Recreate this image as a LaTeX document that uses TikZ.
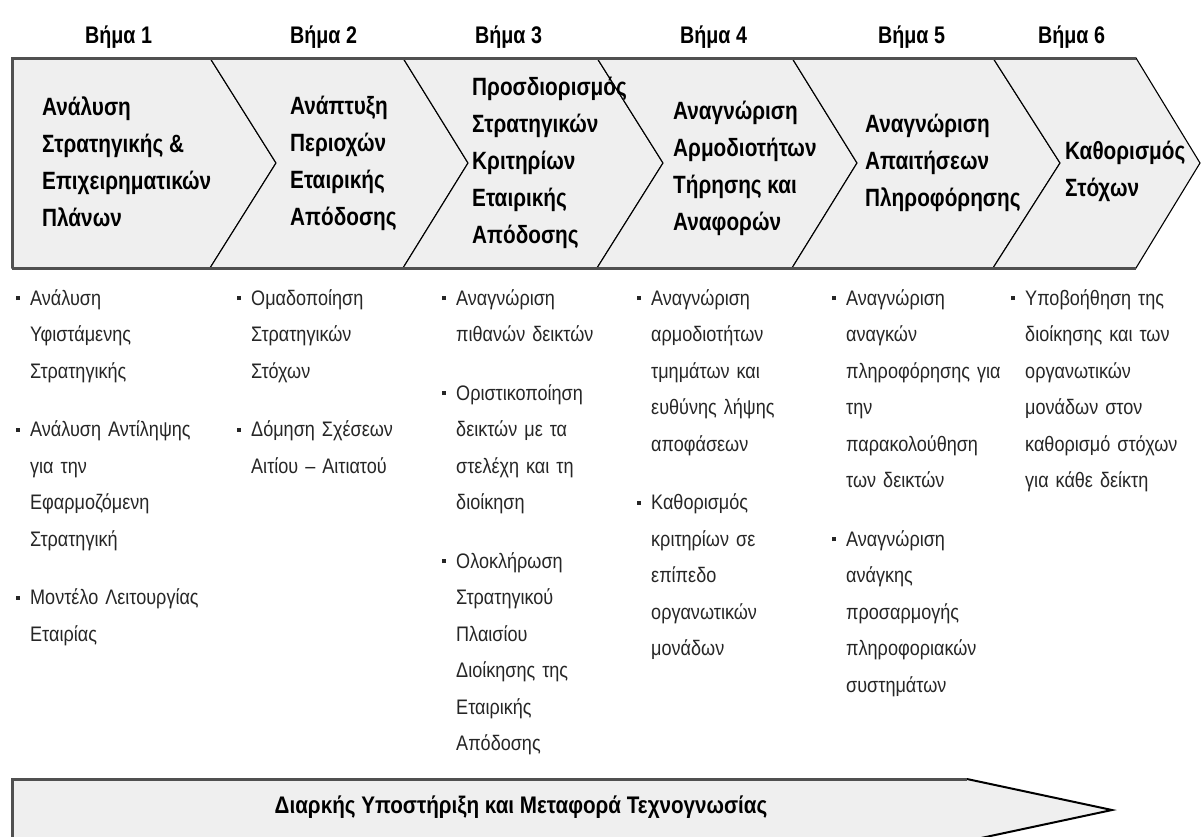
\documentclass[tikz,border=0pt]{standalone}
\usepackage{fontspec}
\setmainfont{Liberation Sans}[FakeStretch=0.86]
\newfontfamily\titlefont{Liberation Sans}[FakeStretch=0.83]
\newfontfamily\stepfont{Liberation Sans}[FakeStretch=0.82]
\definecolor{chevfill}{HTML}{EFEFEF}
\definecolor{edgegray}{HTML}{505050}
\definecolor{bultext}{HTML}{262626}
\newcommand{\bitem}[1]{{\let\\\newline\hangindent=14pt\hangafter=1\noindent\makebox[14pt][l]{\rule[5pt]{4pt}{4pt}}#1\par}}
\newcommand{\bgap}{\par\vspace{22pt}}
\begin{document}
\begin{tikzpicture}[x=1pt,y=-1pt,
  chev/.style={fill=chevfill,draw=black,line width=1.1pt,line join=miter},
  outeredge/.style={draw=edgegray,line width=3pt},
  steplabel/.style={anchor=west,inner sep=0pt,font=\stepfont\fontsize{24}{28}\selectfont\bfseries},
  chevtitle/.style={anchor=west,align=left,inner sep=0pt,font=\titlefont\fontsize{25}{37}\selectfont\bfseries},
  bullets/.style={anchor=base west,inner sep=0pt,text width=190pt,align=left,font=\fontsize{21}{36.5}\selectfont,text=bultext},
  supporttext/.style={inner sep=0pt,font=\fontsize{24}{28}\selectfont\bfseries},
]
\useasboundingbox (0,0) rectangle (1204,836);
\fill[white] (0,0) rectangle (1204,836);

% step labels
\node[steplabel] (s1) at (85,37) {Βήμα 1};
\node[steplabel] (s2) at (290,37) {Βήμα 2};
\node[steplabel] (s3) at (475,37) {Βήμα 3};
\node[steplabel] (s4) at (680,37) {Βήμα 4};
\node[steplabel] (s5) at (878,37) {Βήμα 5};
\node[steplabel] (s6) at (1038,37) {Βήμα 6};

% chevrons
\path[chev] (12,58) -- (210,58) -- (276,163) -- (210,268) -- (12,268) -- cycle;
\path[chev] (210,58) -- (403,58) -- (468,163) -- (403,268) -- (210,268) -- (276,163) -- cycle;
\path[chev] (403,58) -- (597,58) -- (663,163) -- (597,268) -- (403,268) -- (468,163) -- cycle;
\path[chev] (597,58) -- (792,58) -- (857,163) -- (792,268) -- (597,268) -- (663,163) -- cycle;
\path[chev] (792,58) -- (993,58) -- (1060,163) -- (993,268) -- (792,268) -- (857,163) -- cycle;
\path[chev] (993,58) -- (1136,58) -- (1200,163) -- (1136,268) -- (993,268) -- (1060,163) -- cycle;
\draw[outeredge] (12,268) -- (12,58) -- (1136,58);
\draw[outeredge] (12,268) -- (1136,268);

% chevron titles
\node[chevtitle] (t1) at (42,162) {Ανάλυση\\Στρατηγικής \&\\Επιχειρηματικών\\Πλάνων};
\node[chevtitle] (t2) at (290,163) {Ανάπτυξη\\Περιοχών\\Εταιρικής\\Απόδοσης};
\node[chevtitle] (t3) at (472,163) {Προσδιορισμός\\Στρατηγικών\\Κριτηρίων\\Εταιρικής\\Απόδοσης};
\node[chevtitle] (t4) at (673,168) {Αναγνώριση\\Αρμοδιοτήτων\\Τήρησης και\\Αναφορών};
\node[chevtitle] (t5) at (865,163) {Αναγνώριση\\Απαιτήσεων\\Πληροφόρησης};
\node[chevtitle] (t6) at (1065,171) {Καθορισμός\\Στόχων};

% bullet columns
\node[bullets] (b1) at (16,305) {\bitem{Ανάλυση\\Υφιστάμενης\\Στρατηγικής}\bgap
\bitem{Ανάλυση Αντίληψης\\για την\\Εφαρμοζόμενη\\Στρατηγική}\bgap
\bitem{Μοντέλο Λειτουργίας\\Εταιρίας}};
\node[bullets] (b2) at (237,305) {\bitem{Ομαδοποίηση\\Στρατηγικών\\Στόχων}\bgap
\bitem{Δόμηση Σχέσεων\\Αιτίου – Αιτιατού}};
\node[bullets] (b3) at (442,305) {\bitem{Αναγνώριση\\πιθανών δεικτών}\bgap
\bitem{Οριστικοποίηση\\δεικτών με τα\\στελέχη και τη\\διοίκηση}\bgap
\bitem{Ολοκλήρωση\\Στρατηγικού\\Πλαισίου\\Διοίκησης της\\Εταιρικής\\Απόδοσης}};
\node[bullets] (b4) at (637,305) {\bitem{Αναγνώριση\\αρμοδιοτήτων\\τμημάτων και\\ευθύνης λήψης\\αποφάσεων}\bgap
\bitem{Καθορισμός\\κριτηρίων σε\\επίπεδο\\οργανωτικών\\μονάδων}};
\node[bullets] (b5) at (832,305) {\bitem{Αναγνώριση\\αναγκών\\πληροφόρησης για\\την\\παρακολούθηση\\των δεικτών}\bgap
\bitem{Αναγνώριση\\ανάγκης\\προσαρμογής\\πληροφοριακών\\συστημάτων}};
\node[bullets] (b6) at (1011,305) {\bitem{Υποβοήθηση της\\διοίκησης και των\\οργανωτικών\\μονάδων στον\\καθορισμό στόχων\\για κάθε δείκτη}};

% bottom arrow
\path[fill=chevfill] (12,779) -- (967,779) -- (1112,810) -- (967,841) -- (12,841) -- cycle;
\draw[black,line width=2pt] (967,779) -- (1112,810) -- (967,841);
\draw[outeredge] (12,841) -- (12,779) -- (967,779);
\node[supporttext] (sup) at (521,807) {Διαρκής Υποστήριξη και Μεταφορά Τεχνογνωσίας};
\end{tikzpicture}
\end{document}
